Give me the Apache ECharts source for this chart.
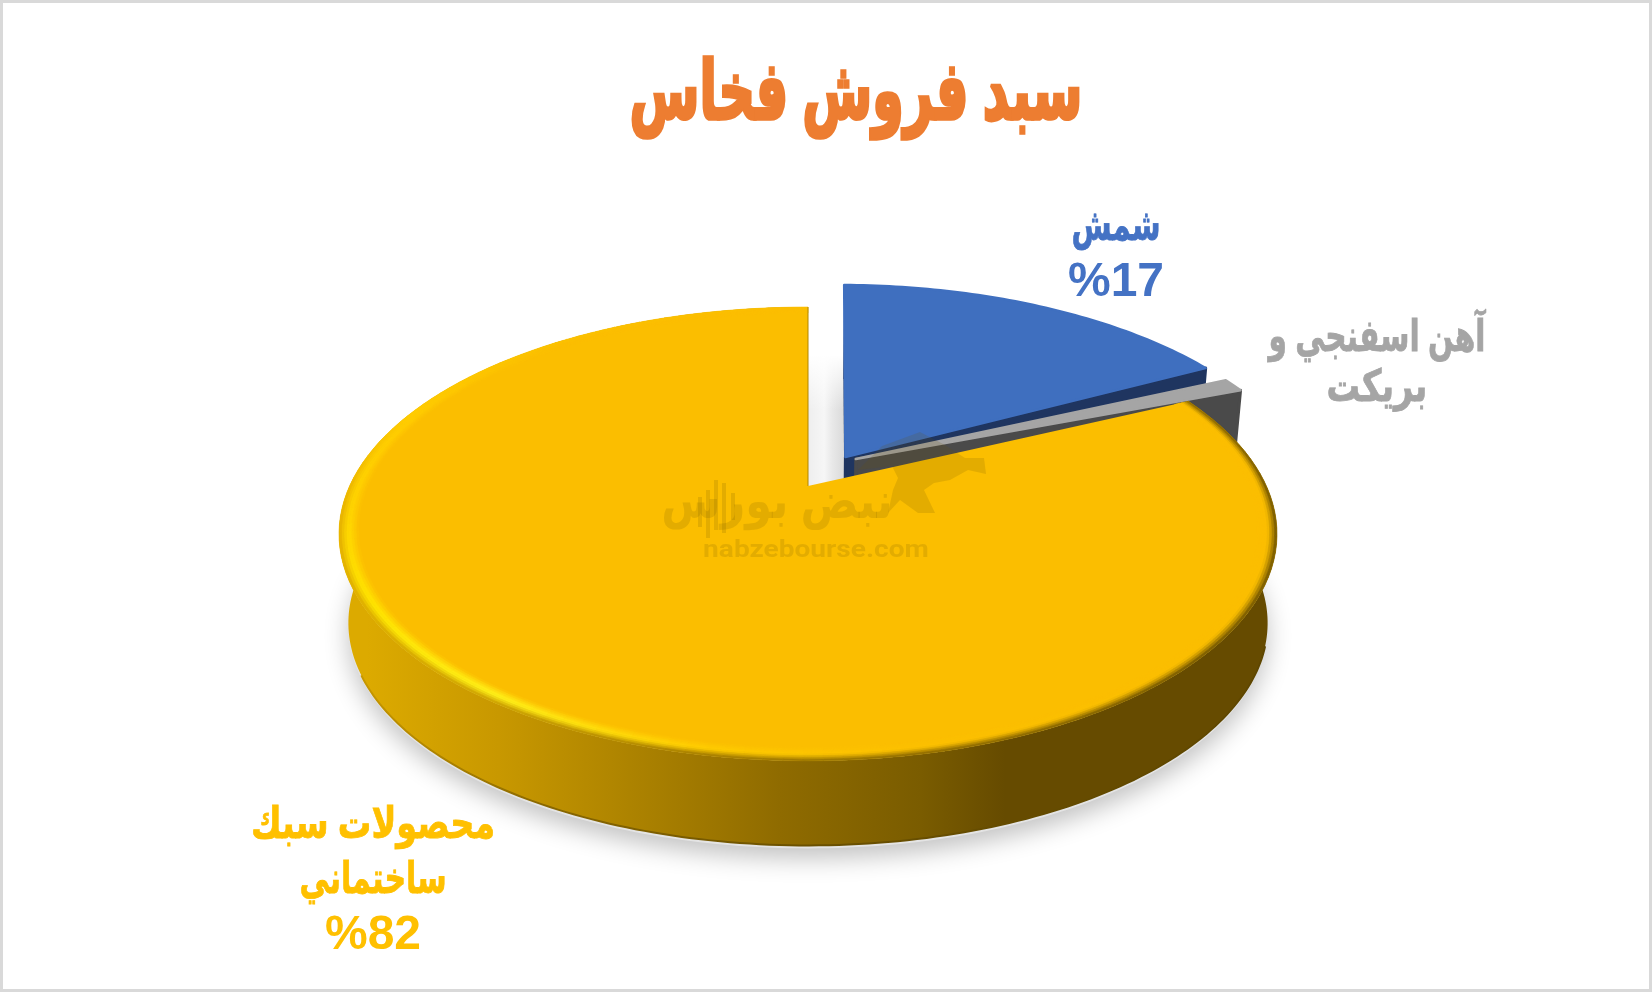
<!DOCTYPE html>
<html><head><meta charset="utf-8">
<style>html,body{margin:0;padding:0;background:#fff}#c{width:1652px;height:992px}</style>
<script src="https://cdn.jsdelivr.net/npm/echarts@6/dist/echarts.min.js"></script>
</head><body><div id="c"></div>
<script>
const categories = ['شمش', 'آهن اسفنجي و\nبريكت', 'محصولات سبك\nساختماني'];
const shares = [17, 1, 82];
const showShare = [true, false, true];
const chartTitle = 'سبد فروش فخاس';

// view geometry (perspective projection of a tilted disc)
const V = {cx: 808, cy: 486, rx: 458.4, ry: 216.8, k: 0.2114, depth: 90, shrink: 0.98};
const explode = [[0.084, -0.138], [0.107, -0.128], [0, 0]];
const spinDeg = [0.8, 4.2, 0];
const reach = [1.015, 1, 1];
const paint = [
  {top: '#3f6fbf', cut: '#1f3560'},
  {top: '#a5a5a5', cut: '#4a4a4a'},
  {top: '#fbbe00', cut: '#8a6800', main: true}
];
const labelAt = [
  {x: 1116, y: 228, gap: 55, color: '#4472c4', fit: [0.66, 1]},
  {x: 1377, y: 339, gap: 50, color: '#a5a5a5', fit: [0.675, 0.76]},
  {x: 373, y: 826, gap: 55, color: '#ffc000', fit: [0.76, 0.68, 1]}
];
const FONT = '"Liberation Sans", Arial, "DejaVu Sans", sans-serif';
const total = shares.reduce((a, b) => a + b, 0);
// rim shading by angle (degrees clockwise from 12 o'clock): [deg, highlight, outer edge]
const rimStops = [
  [60, '#fbbe00', '#8a6800'], [90, '#fbbe00', '#6a4f00'], [135, '#fbbe00', '#6a4f00'],
  [170, '#fcc000', '#846400'], [190, '#ffcc00', '#9a7400'], [215, '#fff21a', '#c89a00'],
  [240, '#ffe600', '#d9a800'], [265, '#ffd500', '#e6b000'], [290, '#ffcc00', '#ffcc00'],
  [320, '#fbbe00', '#fbc200'], [360, '#fbbe00', '#fbbe00']
];

const hex = h => [1, 3, 5].map(i => parseInt(h.substr(i, 2), 16));
const mix = (a, b, t) => a.map((v, i) => v + (b[i] - v) * t);
const css = c => 'rgb(' + c.map(Math.round).join(',') + ')';
function rimColour(deg, t) {
  let i = 0;
  while (i < rimStops.length - 2 && deg > rimStops[i + 1][0]) i++;
  const A = rimStops[i], B = rimStops[i + 1];
  const f = Math.min(1, Math.max(0, (deg - A[0]) / (B[0] - A[0])));
  const hi = mix(hex(A[1]), hex(B[1]), f), lo = mix(hex(A[2]), hex(B[2]), f);
  const face = hex('#fbbe00');
  return t < 0.5 ? mix(face, hi, t / 0.5) : mix(hi, lo, Math.pow((t - 0.5) / 0.5, 1.3));
}

function project(u, v, lower) {
  const d = 1 - V.k * v;
  const s = lower ? V.shrink : 1;
  return [V.cx + s * V.rx * u / d, V.cy + (lower ? V.depth : 0) + s * V.ry * v / d];
}
function arcPts(a0, a1, ox, oz, lower, scale) {
  const pts = [], n = Math.max(2, Math.ceil(Math.abs(a1 - a0) / (Math.PI / 180)));
  const r = scale || 1;
  for (let i = 0; i <= n; i++) {
    const a = a0 + (a1 - a0) * i / n;
    pts.push(project(ox + r * Math.sin(a), oz - r * Math.cos(a), lower));
  }
  return pts;
}
function poly(points, style) {
  return {type: 'polygon', shape: {points}, style, silent: true};
}
const LG = (x0, y0, x1, y1, stops) => new echarts.graphic.LinearGradient(x0, y0, x1, y1,
  stops.map(s => ({offset: s[0], color: s[1]})));

function renderSlice(params, api) {
  const i = params.dataIndex;
  const value = api.value(0);
  const before = shares.slice(0, i).reduce((a, b) => a + b, 0);
  const spin = spinDeg[i] * Math.PI / 180;
  const a0 = before / total * 2 * Math.PI + spin;
  const a1 = (before + value) / total * 2 * Math.PI + spin;
  const ox = explode[i][0], oz = explode[i][1];
  const topArc = arcPts(a0, a1, ox, oz, false, reach[i]);
  const lowArc = arcPts(a0, a1, ox, oz, true, reach[i]);
  const apexT = project(ox, oz, false), apexB = project(ox, oz, true);
  const c = paint[i];
  const children = [];
  const endT = topArc[topArc.length - 1], endB = lowArc[lowArc.length - 1];

  if (!c.main) {
    children.push(poly(topArc.concat(lowArc.slice().reverse()), {fill: c.cut}));
    children.push(poly([topArc[0], apexT, apexB, lowArc[0]], {fill: c.cut}));
    children.push(poly([apexT, endT, endB, apexB], {stroke: c.cut, lineWidth: 3, lineJoin: 'round', fill: c.cut}));
    children.push(poly([apexT].concat(topArc), {fill: c.top, stroke: c.top, lineWidth: 2.5, lineJoin: 'round'}));
    return {type: 'group', children};
  }

  // curved wall with the shaded sweep and a dark lower edge
  children.push(poly(topArc.concat(lowArc.slice().reverse()), {
    fill: LG(0, 0, 1, 0, [[0, '#dcaa00'], [0.03, '#dcaa00'], [0.17, '#c89800'], [0.31, '#ad8300'], [0.47, '#8f6b00'], [0.62, '#7a5c00'], [0.71, '#664b00'], [1, '#664b00']])
  }));
  const frontLow = arcPts(Math.PI * 0.6, Math.PI * 1.36, 0, 0, true);
  children.push({type: 'polyline', silent: true, shape: {points: frontLow}, style: {
    fill: null, lineWidth: 2,
    stroke: LG(0, 0, 1, 0, [[0, '#c89800'], [0.2, '#8a6800'], [0.5, '#6a5000'], [1, '#5e4600']])
  }});
  // flat face
  children.push(poly([apexT].concat(topArc), {fill: c.top}));
  // bevelled rim: radial bands following the disc edge
  const bands = 8, width = 0.04, step = 2 * Math.PI / 180;
  const steps = Math.ceil((a1 - a0) / step);
  for (let b = 0; b < bands; b++) {
    const t = (b + 0.5) / bands;
    const r0 = 1 - width * (1 - b / bands), r1 = 1 - width * (1 - (b + 1) / bands);
    for (let s = 0; s < steps; s++) {
      const p = a0 + (a1 - a0) * s / steps, q = a0 + (a1 - a0) * (s + 1) / steps;
      const col = css(rimColour((p + q) / 2 * 180 / Math.PI, t));
      children.push(poly([
        project(r0 * Math.sin(p), -r0 * Math.cos(p)), project(r1 * Math.sin(p), -r1 * Math.cos(p)),
        project(r1 * Math.sin(q), -r1 * Math.cos(q)), project(r0 * Math.sin(q), -r0 * Math.cos(q))
      ], {fill: col, stroke: col, lineWidth: 0.6}));
    }
  }
  children.push({type: 'polyline', silent: true, shape: {points: [apexT, endT]}, style: {stroke: '#b08600', lineWidth: 1, fill: null}});
  return {type: 'group', children};
}

function renderLabel(params, api) {
  const i = params.dataIndex, at = labelAt[i];
  const lines = categories[i].split('\n');
  if (showShare[i]) lines.push('%' + api.value(0));
  const children = lines.map((t, n) => {
    const pct = t.charAt(0) === '%';
    return {
      type: 'text', silent: true, x: at.x, y: at.y + n * at.gap, scaleX: at.fit[n], scaleY: 1,
      style: {
        x: 0, y: 0, text: t, fill: at.color, align: 'center', verticalAlign: 'middle',
        stroke: pct ? null : at.color, lineWidth: pct ? 0 : 0.8,
        font: 'bold ' + (pct ? 48 : 44) + 'px ' + FONT
      }
    };
  });
  return {type: 'group', children};
}

function renderGround() {
  const all = arcPts(0, 2 * Math.PI, 0, 0, true);
  const gapR = 844;
  return {type: 'group', silent: true, children: [
    poly(all.map(p => [p[0], p[1] + 3]), {fill: '#e4e4e4', shadowBlur: 24, shadowColor: 'rgba(0,0,0,0.24)', shadowOffsetY: 10}),
    poly([[V.cx, 300], [gapR, 300], [gapR, 490], [V.cx, 490]], {
      fill: LG(0, 0, 1, 0, [[0, '#eeeeee'], [0.45, '#f6f6f6'], [0.68, '#e8e8e8'], [1, '#dadada']])
    }),
    poly([[V.cx, 300], [gapR, 300], [gapR, 410], [V.cx, 410]], {
      fill: LG(0, 0, 0, 1, [[0, 'rgba(255,255,255,1)'], [0.5, 'rgba(255,255,255,1)'], [1, 'rgba(255,255,255,0)']])
    })
  ]};
}

const wm = 'rgba(105,80,0,0.16)';
const candles = [[698, 497, 30], [706, 490, 48], [714, 480, 50], [722, 483, 50], [731, 493, 27]];
const graphicEls = [
  {type: 'rect', z: 0, silent: true, shape: {x: 1.5, y: 1.5, width: 1649, height: 989}, style: {fill: 'none', stroke: '#d9d9d9', lineWidth: 3}},
  {type: 'text', z: 40, silent: true, x: 856, y: 97, scaleX: 0.65, scaleY: 1.04, style: {x: 0, y: 0, text: chartTitle, fill: '#ed7d31', stroke: '#ed7d31', lineWidth: 3.6, align: 'center', verticalAlign: 'middle', font: 'bold 78px ' + FONT}},
  {type: 'text', z: 50, silent: true, x: 777, y: 504, scaleX: 0.86, scaleY: 1, style: {x: 0, y: 0, text: 'نبض بورس', fill: wm, align: 'center', verticalAlign: 'middle', font: 'bold 50px ' + FONT}},
  {type: 'text', z: 50, silent: true, x: 816, y: 551, scaleX: 1.17, scaleY: 1, style: {x: 0, y: 0, text: 'nabzebourse.com', fill: wm, align: 'center', verticalAlign: 'middle', font: 'bold 24px Roboto'}},
  {type: 'polygon', z: 50, silent: true, shape: {points: [[858, 470], [882, 446], [920, 432], [945, 445], [965, 458], [984, 458], [986, 474], [968, 470], [950, 480], [934, 483], [924, 490], [935, 513], [918, 513], [900, 500], [888, 513], [893, 490], [898, 478], [892, 466]]}, style: {fill: wm}}
].concat(candles.map(c => ({type: 'rect', z: 50, silent: true, shape: {x: c[0], y: c[1], width: 4, height: c[2]}, style: {fill: wm}})));

const chart = echarts.init(document.getElementById('c'), null, {renderer: 'canvas'});
const rows = shares.map(v => [v]);
chart.setOption({
  animation: false,
  backgroundColor: '#ffffff',
  graphic: graphicEls,
  series: [
    {type: 'custom', coordinateSystem: 'none', z: 1, data: [[0]], renderItem: renderGround, silent: true},
    {type: 'custom', coordinateSystem: 'none', z: 2, data: rows, renderItem: renderSlice, silent: true},
    {type: 'custom', coordinateSystem: 'none', z: 3, data: rows, renderItem: renderLabel, silent: true}
  ]
});
</script></body></html>
